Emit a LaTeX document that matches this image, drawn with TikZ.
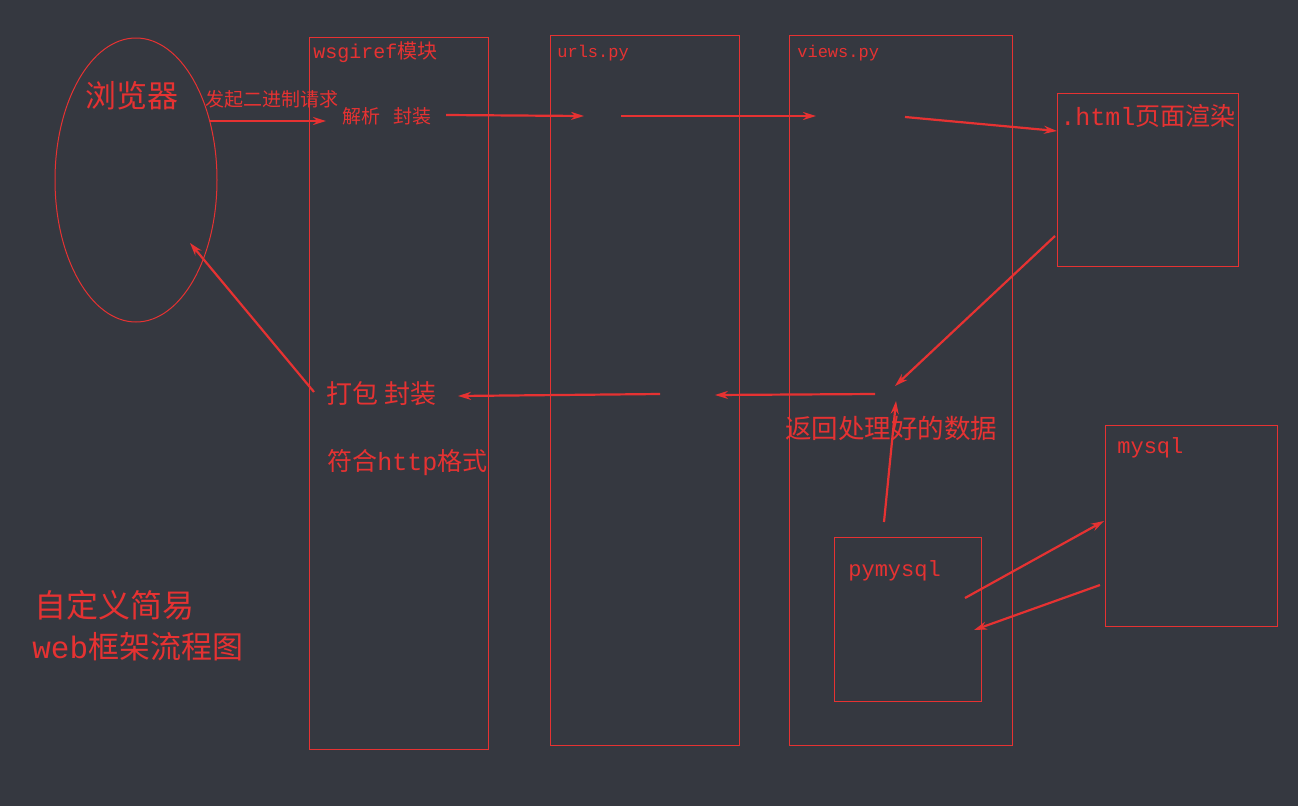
\documentclass[tikz,border=0pt]{standalone}
\usepackage{fontspec}
\setmainfont{Liberation Mono}
\newfontfamily\cjk{Noto Sans CJK SC}
\usetikzlibrary{arrows.meta,shapes.geometric}
\definecolor{bgdark}{RGB}{53,56,64}
\definecolor{redline}{RGB}{230,50,50}
\tikzset{every picture/.style={line width=0.75pt}}
\tikzset{
  frame/.style={draw=redline,line width=1pt},
  flow/.style={draw=redline,line width=2.2pt,-{Stealth[length=13pt,width=8pt]}},
  lbl/.style={text=redline,inner sep=0pt},
}
\begin{document}
\begin{tikzpicture}[x=1pt,y=-1pt]
\fill[bgdark] (0,0) rectangle (1298,806);
\useasboundingbox (0,0) rectangle (1298,806);

%Shapes
\node[frame,ellipse,minimum width=162pt,minimum height=284pt] (browser) at (136,180) {};
\draw[frame] (309,37) rectangle (488,749);
\draw[frame] (550,35) rectangle (739,745);
\draw[frame] (789,35) rectangle (1012,745);
\draw[frame] (1057,93) rectangle (1238,266);
\draw[frame] (1105,425) rectangle (1277,626);
\draw[frame] (834,537) rectangle (981,701);

% Text Node
\node[lbl,anchor=west,font=\cjk\fontsize{31}{31}\selectfont] (llq) at (85,96) {浏览器};
\node[lbl,anchor=west,font=\cjk\fontsize{19}{19}\selectfont] (fq) at (205,99) {发起二进制请求};
\node[lbl,anchor=west,font=\fontsize{20}{20}\selectfont] (wsg) at (313,52) {wsgiref{\cjk 模块}};
\node[lbl,anchor=west,font=\fontsize{17}{17}\selectfont] (urls) at (557,53) {urls.py};
\node[lbl,anchor=west,font=\fontsize{17}{17}\selectfont] (views) at (797,53) {views.py};
\node[lbl,anchor=west,font=\cjk\fontsize{19}{19}\selectfont] (jx) at (342,116) {解析\ \ \ 封装};
\node[lbl,anchor=west,font=\fontsize{25}{25}\selectfont] (html) at (1060,116) {.html{\cjk 页面渲染}};
\node[lbl,anchor=west,font=\cjk\fontsize{26}{26}\selectfont] (db) at (326,394) {打包 封装};
\node[lbl,anchor=west,font=\fontsize{25}{25}\selectfont] (http) at (327,463) {{\cjk 符合}http{\cjk 格式}};
\node[lbl,anchor=west,font=\cjk\fontsize{26.5}{26.5}\selectfont] (fh) at (785,428) {返回处理好的数据};
\node[lbl,anchor=west,font=\fontsize{22}{22}\selectfont] (mysql) at (1117,448) {mysql};
\node[lbl,anchor=west,font=\fontsize{22}{22}\selectfont] (pym) at (848,571) {pymysql};
\node[lbl,anchor=west,font=\cjk\fontsize{32}{32}\selectfont] (t1) at (34,605) {自定义简易};
\node[lbl,anchor=west,font=\fontsize{31}{31}\selectfont] (t2) at (32,647) {web{\cjk 框架流程图}};

%Arrows
\coordinate (a1) at (210,121); \coordinate (a2) at (326,121);
\coordinate (b1) at (446,115); \coordinate (b2) at (584,116);
\coordinate (c1) at (621,116); \coordinate (c2) at (816,116);
\coordinate (d1) at (905,117); \coordinate (d2) at (1057,131);
\coordinate (e1) at (1055,236); \coordinate (e2) at (895,386);
\coordinate (f1) at (875,394); \coordinate (f2) at (715,395);
\coordinate (g1) at (660,394); \coordinate (g2) at (458,396);
\coordinate (h1) at (314,392); \coordinate (h2) at (190,243);
\coordinate (i1) at (884,522); \coordinate (i2) at (896,401);
\coordinate (j1) at (965,598); \coordinate (j2) at (1104,521);
\coordinate (k1) at (1100,585); \coordinate (k2) at (974,630);
\foreach \s/\e in {a1/a2,b1/b2,c1/c2,d1/d2,e1/e2,f1/f2,g1/g2,h1/h2,i1/i2,j1/j2,k1/k2}
  \draw[flow] (\s) -- (\e);
\end{tikzpicture}
\end{document}
